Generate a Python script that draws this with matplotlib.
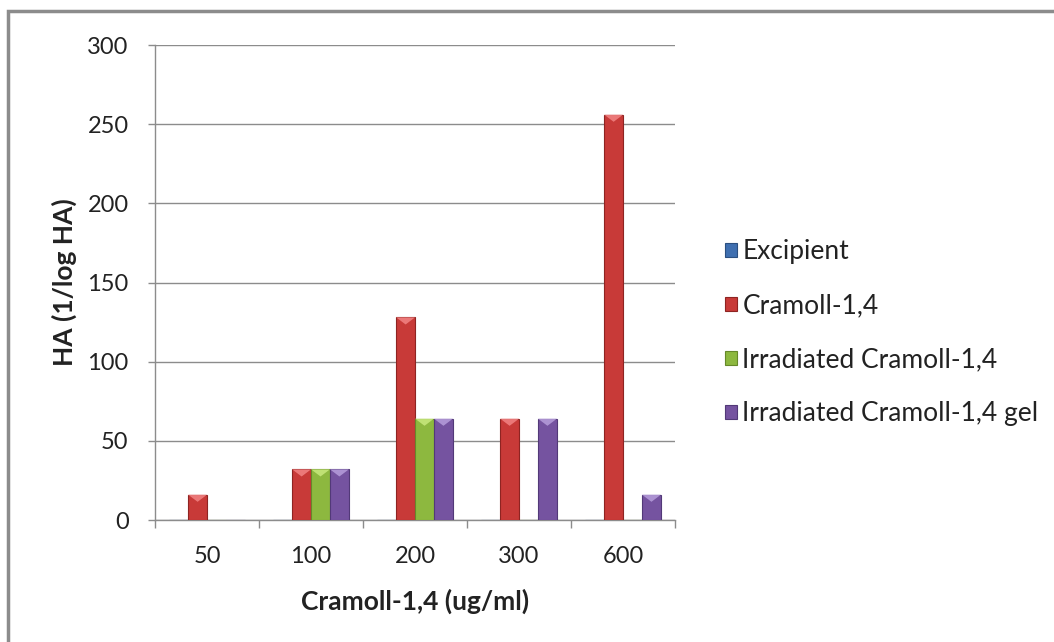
import matplotlib.pyplot as plt
import numpy as np
from matplotlib.patches import Rectangle, Polygon

# data
categories = ['50', '100', '200', '300', '600']
series = ['Excipient', 'Cramoll-1,4', 'Irradiated Cramoll-1,4', 'Irradiated Cramoll-1,4 gel']
excipient = [0, 0, 0, 0, 0]
cramoll = [16, 32, 128, 64, 256]
irradiated = [0, 32, 64, 0, 0]
irradiated_gel = [0, 32, 64, 64, 16]

colors = ['#3F6FB0', '#C83A38', '#8DB83F', '#7553A0']
edge_colors = ['#2B4F80', '#8E2422', '#66882A', '#523978']
light_colors = ['#7FA6DC', '#F08080', '#C5E67A', '#B39AD8']

plt.rcParams['font.family'] = ['Lato', 'DejaVu Sans']
text_color = '#222222'
grid_color = '#8C8C8C'

fig = plt.figure(figsize=(10.54, 6.42), dpi=100)
ax = fig.add_axes([0.1471, 0.19, 0.4934, 0.7399])

x = np.arange(len(categories))
width = 1 / 5.5
values = [excipient, cramoll, irradiated, irradiated_gel]
tri_h = 4.5  # height of the bevel highlight, in data units

for i, vals in enumerate(values):
    pos = x + (i - 1.5) * width
    ax.bar(pos, vals, width, color=colors[i], edgecolor=edge_colors[i],
           linewidth=0.8, zorder=3)
    for px, v in zip(pos, vals):
        if v <= 0:
            continue
        tri = Polygon([[px - width / 2, v], [px + width / 2, v], [px, v - tri_h]],
                      closed=True, facecolor=light_colors[i], edgecolor='none',
                      alpha=0.9, zorder=4)
        ax.add_patch(tri)

ax.set_xlim(-0.5, len(categories) - 0.5)
ax.set_ylim(0, 300)
ax.set_yticks(np.arange(0, 301, 50))
ax.yaxis.grid(True, color=grid_color, linewidth=1.0)
ax.set_axisbelow(True)

ax.set_xticks(x)
ax.set_xticklabels(categories)
ax.set_xticks(np.arange(-0.5, len(categories), 1), minor=True)
ax.tick_params(axis='x', which='major', length=0, pad=19, labelsize=17, labelcolor=text_color)
ax.tick_params(axis='x', which='minor', length=6, color=grid_color, width=1.0)
ax.tick_params(axis='y', length=5, color=grid_color, width=1.0, pad=14,
               labelsize=17, labelcolor=text_color)

for s in ['top', 'right']:
    ax.spines[s].set_visible(False)
for s in ['left', 'bottom']:
    ax.spines[s].set_color(grid_color)
    ax.spines[s].set_linewidth(1.0)

ax.set_xlabel('Cramoll-1,4 (ug/ml)', fontsize=19, fontweight='bold', color=text_color, labelpad=15)
ax.set_ylabel('HA (1/log HA)', fontsize=19, fontweight='bold', color=text_color)
ax.yaxis.set_label_coords(-0.15, 0.5)

handles = [Rectangle((0, 0), 1, 1, facecolor=colors[i], edgecolor=edge_colors[i], linewidth=0.8)
           for i in range(len(series))]
leg = fig.legend(handles, series, loc='center left', bbox_to_anchor=(0.678, 0.482),
                 frameon=False, fontsize=19, labelspacing=1.1, handlelength=0.45,
                 handleheight=0.45, handletextpad=0.2, borderaxespad=0)
for t in leg.get_texts():
    t.set_color(text_color)

# outer chart border
fig.patches.append(Rectangle((8 / 1054, -0.1), 1.1, 1 - 11 / 642 + 0.1,
                             transform=fig.transFigure, fill=False,
                             edgecolor='#8C8C8C', linewidth=2.5))

fig.savefig('out.png', dpi=100)
